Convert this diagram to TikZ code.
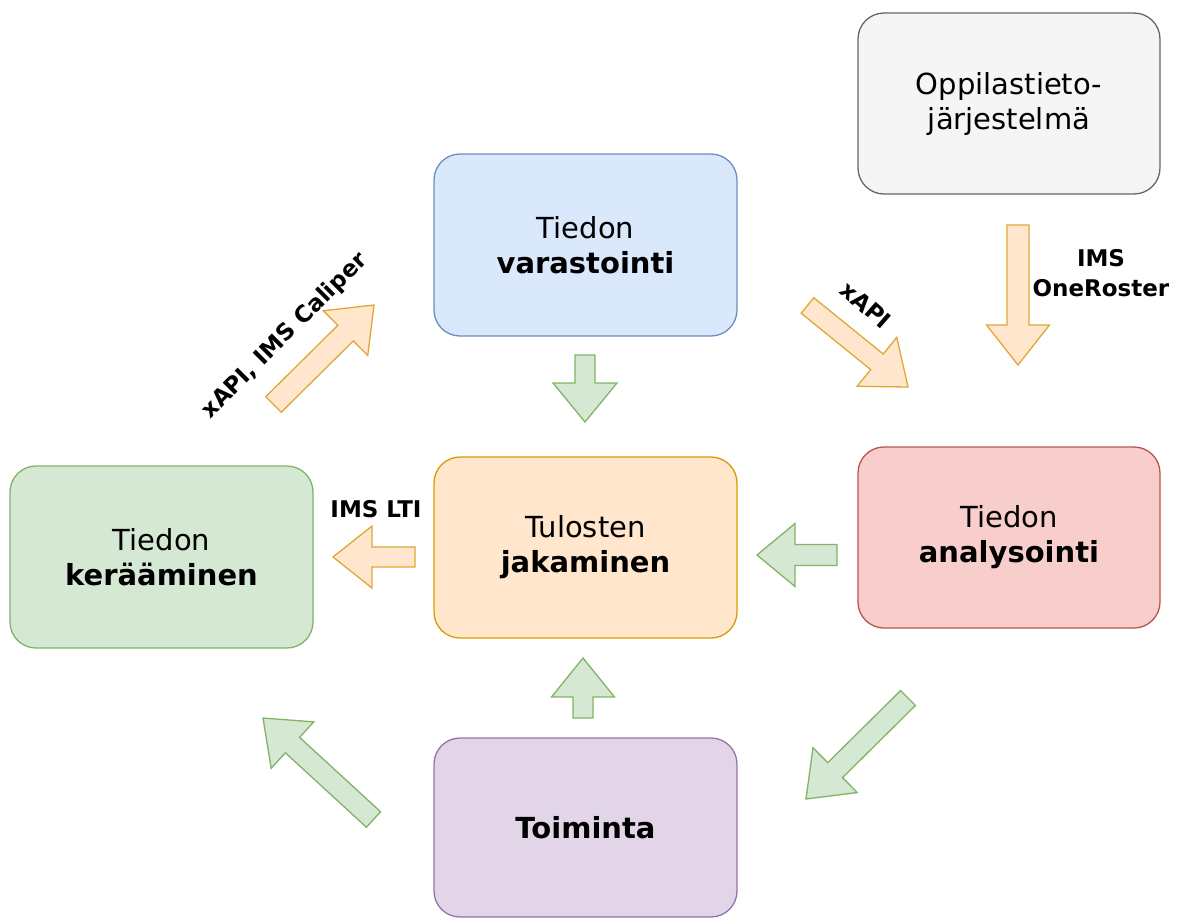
\documentclass[tikz,border=0pt]{standalone}
\usepackage{fontspec}
\setmainfont{DejaVu Sans}
\begin{document}
\definecolor{grayfill}{HTML}{F5F5F5}\definecolor{graydraw}{HTML}{666666}
\definecolor{bluefill}{HTML}{DAE8FC}\definecolor{bluedraw}{HTML}{6C8EBF}
\definecolor{greenfill}{HTML}{D5E8D4}\definecolor{greendraw}{HTML}{82B366}
\definecolor{orangefill}{HTML}{FFE6CC}\definecolor{orangedraw}{HTML}{D79B00}
\definecolor{arrowgold}{HTML}{DDA83A}
\definecolor{redfill}{HTML}{F8CECC}\definecolor{reddraw}{HTML}{B85450}
\definecolor{purplefill}{HTML}{E1D5E7}\definecolor{purpledraw}{HTML}{9673A6}
\tikzset{
  box/.style={draw, line width=1.3pt, rounded corners=26pt, align=center,
    minimum width=303pt, minimum height=181pt, inner sep=0pt, text=black,
    font=\fontsize{29}{35}\selectfont},
  greenarrow/.style={fill=greenfill, draw=greendraw, line width=1.3pt, line join=miter},
  goldarrow/.style={fill=orangefill, draw=arrowgold, line width=1.3pt, line join=miter},
  lbl/.style={font=\fontsize{23}{30}\selectfont\bfseries, align=center, inner sep=0pt}
}
% block arrow: style, tail x, tail y, tip x, tip y, shaft width, head width, head length
\newcommand\blockarr[8]{%
  \pgfmathsetmacro\baAng{atan2(-(#5-#3),#4-#2)}%
  \pgfmathsetmacro\baLen{veclen(#4-#2,#5-#3)}%
  \pgfmathsetmacro\baBase{\baLen-#8}%
  \begin{scope}[shift={(#2,#3)}, rotate=\baAng, x=1pt, y=1pt]
    \draw[#1] (0,#6/2) -- (\baBase,#6/2) -- (\baBase,#7/2) -- (\baLen,0)
      -- (\baBase,-#7/2) -- (\baBase,-#6/2) -- (0,-#6/2) -- cycle;
  \end{scope}}
\begin{tikzpicture}[x=1pt, y=-1pt]
  \useasboundingbox (0,0) rectangle (1189,918);

  % process boxes
  \node[box, fill=grayfill, draw=graydraw, minimum width=302pt] (opp) at (1009,103.5)
    {Oppilastieto-\\järjestelmä};
  \node[box, fill=bluefill, draw=bluedraw, minimum height=182pt] (var) at (585.5,245)
    {Tiedon\\\textbf{varastointi}};
  \node[box, fill=greenfill, draw=greendraw, minimum height=182pt] (ker) at (161.5,557)
    {Tiedon\\\textbf{kerääminen}};
  \node[box, fill=orangefill, draw=orangedraw] (jak) at (585.5,547.5)
    {Tulosten\\\textbf{jakaminen}};
  \node[box, fill=redfill, draw=reddraw, minimum width=302pt] (ana) at (1009,537.5)
    {Tiedon\\\textbf{analysointi}};
  \node[box, fill=purplefill, draw=purpledraw, minimum height=179pt] (toi) at (585.5,827.5)
    {\textbf{Toiminta}};

  % green flow arrows
  \blockarr{greenarrow}{585}{355}{585}{422}{20}{64}{39}
  \blockarr{greenarrow}{837}{555}{757}{555}{21}{63}{38}
  \blockarr{greenarrow}{583}{718}{583}{658}{20}{63}{39}
  \blockarr{greenarrow}{908}{698}{806}{799}{21}{63}{41}
  \blockarr{greenarrow}{373.5}{819.5}{263}{718}{21}{63}{40}

  % interface arrows
  \blockarr{goldarrow}{273.5}{404.5}{374}{305}{22}{63}{40}
  \blockarr{goldarrow}{807.5}{305.5}{908}{387}{20}{63}{40}
  \blockarr{goldarrow}{1018}{225}{1018}{365}{22}{63}{40}
  \blockarr{goldarrow}{415}{557}{333}{557}{20}{62}{39}

  % interface labels
  \node[lbl, rotate=45] (lcal) at (285,336) {xAPI, IMS Caliper};
  \node[lbl, rotate=-41] (lxapi) at (866,305) {xAPI};
  \node[lbl] (lone) at (1101,273) {IMS\\OneRoster};
  \node[lbl] (llti) at (376,509) {IMS LTI};
\end{tikzpicture}
\end{document}
